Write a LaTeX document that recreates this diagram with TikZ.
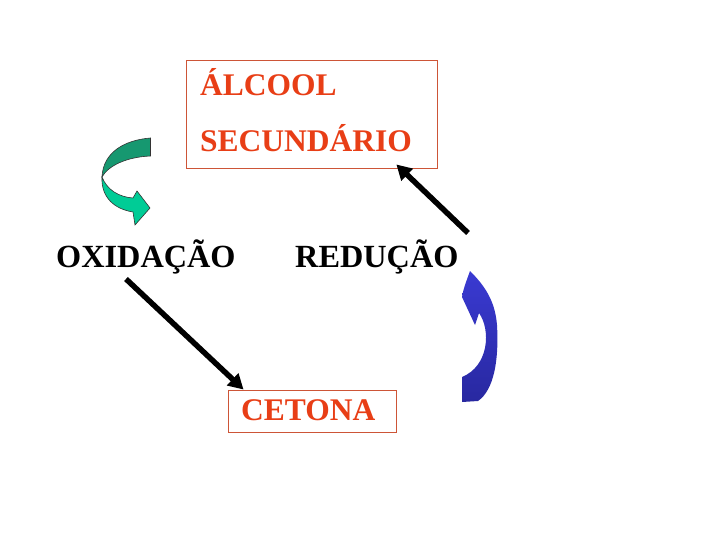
\documentclass[tikz,border=0pt]{standalone}
\usepackage{fontspec}
\setmainfont{Liberation Serif}
\usetikzlibrary{arrows.meta,calc}
\definecolor{redtxt}{RGB}{232,62,22}
\definecolor{boxline}{RGB}{205,85,55}
\definecolor{greendark}{RGB}{22,152,112}
\definecolor{greenlight}{RGB}{0,204,150}
\definecolor{bluetop}{RGB}{58,58,210}
\definecolor{bluebot}{RGB}{40,40,160}
\tikzset{
  redlabel/.style={text=redtxt,font=\bfseries\fontsize{31.5}{36}\selectfont,inner sep=0pt,anchor=base west},
  blacklabel/.style={text=black,font=\bfseries\fontsize{32.3}{36}\selectfont,inner sep=0pt,anchor=base west},
  framebox/.style={draw=boxline,line width=0.9pt,inner sep=0pt},
  bigarrow/.style={line width=5.5pt,-{Triangle[length=15pt,width=16pt]}},
}
\begin{document}
\begin{tikzpicture}[x=1pt,y=-1pt]
\useasboundingbox (0,0) rectangle (720,540);
% boxes
\node[framebox,minimum width=251pt,minimum height=108pt] (alcbox) at (312.4,114) {};
\node[framebox,minimum width=168pt,minimum height=42pt] (cetbox) at (312,411) {};
% texts
\node[redlabel] (alc) at (200,95.5) {ÁLCOOL};
\node[redlabel] (sec) at (200,152) {SECUNDÁRIO};
\node[redlabel] (cet) at (241,420.5) {CETONA};
\node[blacklabel] (oxi) at (56,267) {OXIDAÇÃO};
\node[blacklabel] (red) at (295,267) {REDUÇÃO};
% arrow end points
\coordinate (oxStart) at (126,279);
\coordinate (cetTip) at ($(cetbox.north west)+(16,0)$);
\coordinate (redStart) at (468,233);
\coordinate (alcTip) at ($(alcbox.south east)+(-42,-4)$);
\draw[bigarrow] (oxStart) -- (cetTip);
\draw[bigarrow] (redStart) -- (alcTip);
% green curved arrow
\filldraw[fill=greendark,draw=black!80,line width=0.6pt]
  (150.5,138) .. controls (125,140) and (103,152) .. (102,177)
  .. controls (108,166) and (126,157) .. (150.5,156) -- cycle;
\filldraw[fill=greenlight,draw=black!80,line width=0.6pt]
  (102,177) .. controls (101,197) and (114,209) .. (133,212)
  -- (135,225) -- (150,208) -- (137,191) -- (133,198)
  .. controls (119,197) and (107,190) .. (102,177) -- cycle;
% blue curved arrow
\shade[top color=bluetop,bottom color=bluebot]
  (470,271) .. controls (466,282) and (463,290) .. (462,297)
  -- (475,325) -- (479,313)
  .. controls (491,330) and (489,366) .. (462,377)
  -- (462,402) -- (478,401)
  .. controls (494,390) and (499,360) .. (497,325)
  .. controls (495,300) and (484,285) .. (470,271) -- cycle;
\end{tikzpicture}
\end{document}
